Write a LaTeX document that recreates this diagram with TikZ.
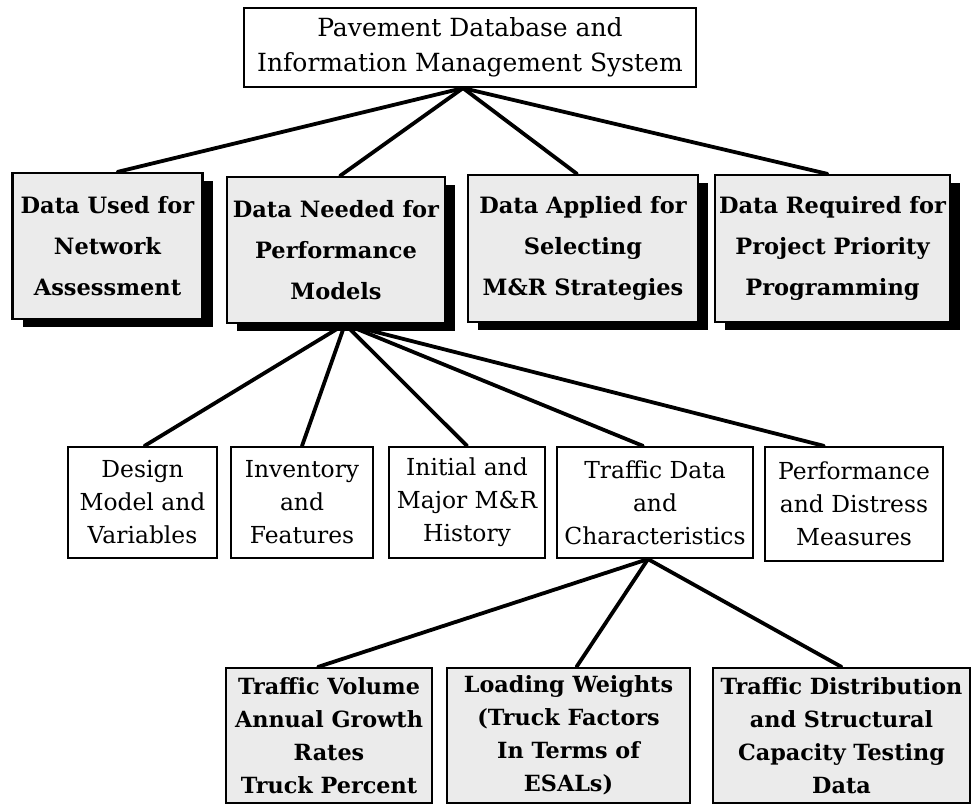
\documentclass[tikz,border=0pt]{standalone}
\usepackage{fontspec}
\setmainfont{DejaVu Serif}
\usetikzlibrary{shadows}
\begin{document}
\begin{tikzpicture}[x=1pt,y=-1pt,
  frame/.style={draw=black, line width=2.2pt, inner sep=0pt, align=center},
  sized/.style 2 args={minimum width=#1, minimum height=#2},
  headbox/.style={frame, fill=white, font={\fontsize{25}{35}\selectfont}},
  groupbox/.style={frame, fill=black!8,
    drop shadow={shadow xshift=10pt, shadow yshift=-8pt, fill=black, opacity=1},
    font={\fontsize{22.5}{41}\selectfont\bfseries}},
  itembox/.style={frame, fill=white, font={\fontsize{23.4}{33}\selectfont}},
  detailbox/.style={frame, fill=black!8, font={\fontsize{22.3}{33}\selectfont\bfseries}},
  link/.style={line width=3.8pt, line cap=round}
]
\fill[white] (0,0) rectangle (973,806);
\useasboundingbox (0,0) rectangle (973,806);

% root
\node[headbox, sized={452pt}{79pt}] (root) at (470,47.5)
  {Pavement Database and\\Information Management System};

% data groups
\node[groupbox, sized={190pt}{146pt}] (net) at (107.5,246)
  {Data Used for\\Network\\Assessment};
\node[groupbox, sized={218pt}{146pt}] (perfmod) at (336,250)
  {Data Needed for\\Performance\\Models};
\node[groupbox, sized={230pt}{147pt}] (mr) at (583,248.5)
  {Data Applied for\\Selecting\\M\&R Strategies};
\node[groupbox, sized={235pt}{147pt}] (prio) at (832.5,248.5)
  {Data Required for\\Project Priority\\Programming};

% performance model inputs
\node[itembox, sized={149pt}{111pt}] (design) at (142.5,502.5)
  {Design\\Model and\\Variables};
\node[itembox, sized={142pt}{111pt}] (inv) at (302,502.5)
  {Inventory\\and\\Features};
\node[itembox, sized={156pt}{111pt}] (hist) at (467,502.5)
  {Initial and\\Major M\&R\\History};
\node[itembox, sized={196pt}{111pt}] (traffic) at (655,502.5)
  {Traffic Data\\and\\Characteristics};
\node[itembox, sized={178pt}{114pt}] (distress) at (854,504)
  {Performance\\and Distress\\Measures};

% traffic details
\node[detailbox, sized={206pt}{135pt}] (volume) at (329,735.5)
  {Traffic Volume\\Annual Growth\\Rates\\Truck Percent};
\node[detailbox, sized={243pt}{135pt}] (loads) at (568.5,735.5)
  {Loading Weights\\(Truck Factors\\In Terms of\\ESALs)};
\node[detailbox, sized={257pt}{135pt}] (capacity) at (841.5,735.5)
  {Traffic Distribution\\and Structural\\Capacity Testing\\Data};

% connectors
\coordinate (rootfoot) at ([xshift=-7pt]root.south);
\draw[link] (rootfoot) -- ([xshift=10pt]net.north);
\draw[link] (rootfoot) -- ([xshift=4pt]perfmod.north);
\draw[link] (rootfoot) -- ([xshift=-6pt]mr.north);
\draw[link] (rootfoot) -- ([xshift=-5pt]prio.north);

\coordinate (perffoot) at ([xshift=9pt]perfmod.south);
\draw[link] (perffoot) -- ([xshift=2pt]design.north);
\draw[link] (perffoot) -- (inv.north);
\draw[link] (perffoot) -- (hist.north);
\draw[link] (perffoot) -- ([xshift=-12pt]traffic.north);
\draw[link] (perffoot) -- ([xshift=-30pt]distress.north);

\coordinate (trafficfoot) at ([xshift=-7pt]traffic.south);
\draw[link] (trafficfoot) -- ([xshift=-11pt]volume.north);
\draw[link] (trafficfoot) -- ([xshift=8pt]loads.north);
\draw[link] (trafficfoot) -- (capacity.north);
\end{tikzpicture}
\end{document}
